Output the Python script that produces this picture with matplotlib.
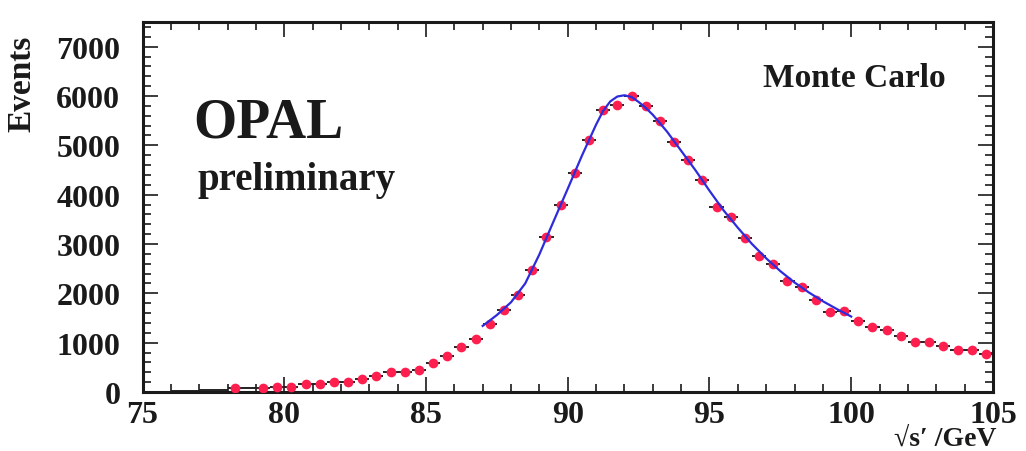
import numpy as np
import matplotlib
matplotlib.use('Agg')
import matplotlib.pyplot as plt
from matplotlib.ticker import MultipleLocator

plt.rcParams['font.family'] = ['Liberation Serif', 'DejaVu Serif']
plt.rcParams['font.weight'] = 'bold'

# Monte Carlo histogram, bin centres (0.5 GeV bins) and contents
mc_x = [78.25, 79.25, 79.75, 80.25, 80.75, 81.25, 81.75, 82.25, 82.75, 83.25,
        83.75, 84.25, 84.75, 85.25, 85.75, 86.25, 86.75, 87.25, 87.75, 88.25,
        88.75, 89.25, 89.75, 90.25, 90.75, 91.25, 91.75, 92.25, 92.75, 93.25,
        93.75, 94.25, 94.75, 95.25, 95.75, 96.25, 96.75, 97.25, 97.75, 98.25,
        98.75, 99.25, 99.75, 100.25, 100.75, 101.25, 101.75, 102.25, 102.75,
        103.25, 103.75, 104.25, 104.75]
mc_y = [73, 79, 92, 105, 153, 172, 199, 212, 257, 325,
        398, 397, 445, 593, 734, 909, 1083, 1387, 1657, 1968,
        2473, 3148, 3781, 4449, 5103, 5718, 5826, 6006, 5796, 5486,
        5073, 4694, 4304, 3749, 3547, 3128, 2767, 2591, 2246, 2138,
        1860, 1630, 1644, 1447, 1324, 1251, 1142, 1018, 1012,
        929, 860, 854, 779]

# low bins drawn only as bin-width bars
low_x = [75.25, 75.75, 76.25, 76.75, 77.25, 77.75, 78.75]
low_y = [5, 10, 15, 25, 35, 50, 85]

# fitted line shape
fit_x = [87.0, 87.5, 88.0, 88.5, 89.0, 89.5, 90.0, 90.5, 91.0, 91.25, 91.5,
         91.75, 92.0, 92.25, 92.5, 92.75, 93.0, 93.5, 94.0, 94.5, 95.0, 95.5,
         96.0, 96.5, 97.0, 97.5, 98.0, 98.5, 99.0, 99.5, 100.0]
fit_y = [1340, 1560, 1820, 2200, 2790, 3460, 4120, 4790, 5420, 5700, 5890,
         5990, 6015, 5980, 5880, 5760, 5620, 5280, 4890, 4500, 4080, 3680,
         3330, 3000, 2710, 2450, 2220, 2020, 1840, 1680, 1530]

fig = plt.figure(figsize=(10.26, 4.52), dpi=100)
ax = fig.add_axes([0.1389, 0.1305, 0.8289, 0.8186])

ax.errorbar(low_x, low_y, xerr=0.25, fmt='none', ecolor='#222222',
            elinewidth=1.4, zorder=2)
ax.errorbar(mc_x, mc_y, xerr=0.25, fmt='none', ecolor='#222222',
            elinewidth=1.4, zorder=2)
ax.plot(mc_x, mc_y, 'o', color='#ff1f4f', ms=7, mec='none', zorder=3)
ax.plot(fit_x, fit_y, '-', color='#2c2cdc', lw=1.6, zorder=4)

ax.set_xlim(75, 105)
ax.set_ylim(0, 7500)
ax.xaxis.set_major_locator(MultipleLocator(5))
ax.xaxis.set_minor_locator(MultipleLocator(1))
ax.yaxis.set_major_locator(MultipleLocator(1000))
ax.yaxis.set_minor_locator(MultipleLocator(200))
ax.tick_params(which='both', direction='in', top=True, right=True,
               width=1.2, colors='#1a1a1a', labelsize=23)
ax.tick_params(which='major', length=11)
ax.tick_params(which='minor', length=5.5)
ax.tick_params(axis='y', which='major', pad=16)
ax.tick_params(axis='x', which='major', pad=6)
for s in ax.spines.values():
    s.set_linewidth(2.2)
    s.set_color('#1a1a1a')

fig.text(22/1026, 1-36/452, 'Events', rotation=90, ha='center', va='top',
         fontsize=24, color='#1a1a1a')
fig.text(997/1026, 1-446/452, '\u221as\u2032 /GeV', ha='right', va='baseline',
         fontsize=20, color='#1a1a1a')
fig.text(193/1026, 1-138/452, 'OPAL', ha='left', va='baseline',
         fontsize=40, color='#1a1a1a')
fig.text(197/1026, 1-190/452, 'preliminary', ha='left', va='baseline',
         fontsize=28, color='#1a1a1a')
fig.text(763/1026, 1-87/452, 'Monte Carlo', ha='left', va='baseline',
         fontsize=24, color='#1a1a1a')

fig.savefig('out.png', dpi=100, facecolor='white')
